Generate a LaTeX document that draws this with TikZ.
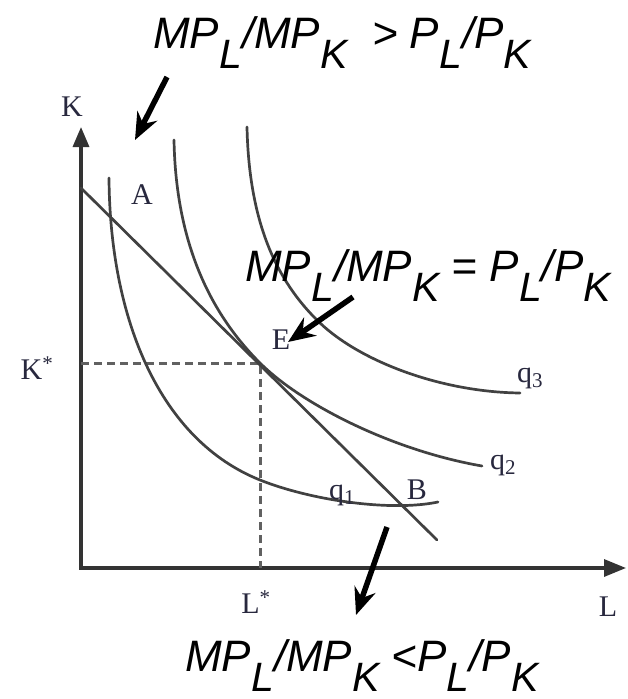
\documentclass[tikz,border=0pt]{standalone}
\usepackage{fontspec}
\setmainfont{Liberation Serif}
\newfontfamily\formfont{Liberation Sans}
\usetikzlibrary{arrows.meta}
\definecolor{lblc}{RGB}{40,40,62}
\definecolor{curvec}{RGB}{65,65,65}
\newcommand\lowsub[1]{\raisebox{-0.46em}{\fontsize{41}{41}\selectfont #1}}
\begin{document}
\begin{tikzpicture}[x=1pt,y=-1pt,
  curve/.style={line width=2.7pt, draw=curvec, line cap=round},
  axis/.style={line width=3.2pt, draw=black!80},
  guide/.style={line width=3pt, draw=black!62, dash pattern=on 8pt off 5pt},
  lbl/.style={font=\fontsize{30}{31}\selectfont, text=lblc, inner sep=0},
  formula/.style={font=\formfont\itshape\fontsize{44}{50}\selectfont, inner sep=0, anchor=base west},
  pointer/.style={line width=5.5pt, -{Stealth[length=27pt,width=22pt,inset=9pt]}}
]
\useasboundingbox (0,0) rectangle (627,699);
% axes
\coordinate (O) at (81,568);
\coordinate (Ytop) at (81,127);
\coordinate (Xend) at (626,568);
\draw[axis, {Triangle[length=20pt,width=16pt]}-{Triangle[length=22pt,width=17pt]}] (Ytop) -- (O) -- (Xend);
% tangency point and guides
\coordinate (E0) at (260,363);
\coordinate (Kax) at (81,363);
\coordinate (Lax) at (260,568);
\draw[guide] (Kax) -- (E0) -- (Lax);
% budget line
\coordinate (BL1) at (81,188);
\coordinate (BL2) at (437,540);
\draw[curve] (BL1) -- (BL2);
% isoquants
\coordinate (q1a) at (109,178);
\coordinate (q1b) at (260,480);
\coordinate (q1c) at (438,502);
\draw[curve] (q1a) .. controls (110,320) and (160,440) .. (q1b)
             .. controls (310,500) and (390,512) .. (q1c);
\coordinate (q2a) at (174,140);
\coordinate (q2c) at (482,466);
\draw[curve] (q2a) .. controls (176,250) and (215,318) .. (E0)
             .. controls (300,403) and (390,450) .. (q2c);
\coordinate (q3a) at (247,127);
\coordinate (q3b) at (320,323);
\coordinate (q3c) at (520,393);
\draw[curve] (q3a) .. controls (249,220) and (275,280) .. (q3b)
             .. controls (360,361) and (440,392) .. (q3c);
% labels
\node[lbl] (lK) at (72,107) {K};
\node[lbl] (lKs) at (37,368) {K\textsuperscript{*}};
\node[lbl] (lLs) at (256,602) {L\textsuperscript{*}};
\node[lbl] (lL) at (608,607) {L};
\node[lbl] (lA) at (142,195) {A};
\node[lbl] (lE) at (281,340) {E};
\node[lbl] (lB) at (417,490) {B};
\node[lbl] (lq1) at (342,495) {q\textsubscript{1}};
\node[lbl] (lq2) at (503,465) {q\textsubscript{2}};
\node[lbl] (lq3) at (530,378) {q\textsubscript{3}};
% formulas
\node[formula] (ftop) at (153,48) {MP\lowsub{L}/MP\lowsub{K}\ \ {>} P\lowsub{L}/P\lowsub{K}};
\node[formula] (fmid) at (245,281) {MP\lowsub{L}/MP\lowsub{K} = P\lowsub{L}/P\lowsub{K}};
\node[formula] (fbot) at (185,671) {MP\lowsub{L}/MP\lowsub{K} {<}P\lowsub{L}/P\lowsub{K}};
% pointers
\coordinate (t1) at (167,77);
\coordinate (h1) at (135,140);
\coordinate (t2) at (353,297);
\coordinate (h2) at (288,342);
\coordinate (t3) at (387,527);
\coordinate (h3) at (356,615);
\draw[pointer] (t1) -- (h1);
\draw[pointer] (t2) -- (h2);
\draw[pointer] (t3) -- (h3);
\end{tikzpicture}
\end{document}
